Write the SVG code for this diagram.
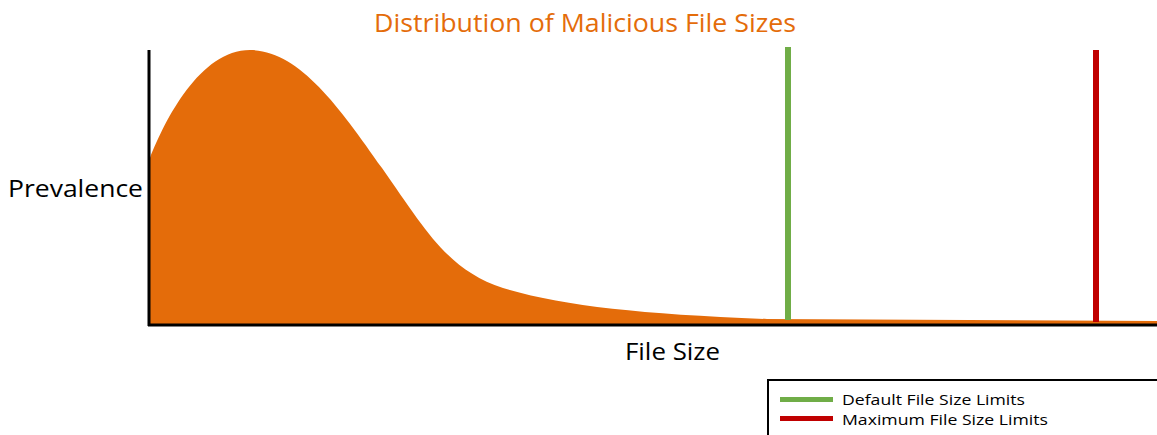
<svg xmlns="http://www.w3.org/2000/svg" width="1157" height="435" viewBox="0 0 1157 435">
<style>
text { font-family: "Open Sans", "Noto Sans", "Liberation Sans", sans-serif; }
.lbl { fill: #000; font-size: 24px; }
.leg { fill: #000; font-size: 15px; }
.axis { stroke: #000; stroke-width: 3; fill: none; }
</style>
<rect width="1157" height="435" fill="#fff"/>
<text id="title" x="374" y="32" textLength="422" lengthAdjust="spacingAndGlyphs" style="fill:#E46C0A;font-size:25px">Distribution of Malicious File Sizes</text>
<g id="curve">
<path d="M150,324 L150,158 C165,120 200,50 250,50 C298,50 338,105 382,168 S448,270 503,288 C563,306 640,314 767,319 L1157,321 L1157,325 L150,325 Z" fill="#E46C0A"/>
</g>
<g id="axes">
<line class="axis" x1="149" y1="50" x2="149" y2="326"/>
<line class="axis" x1="148" y1="325" x2="1157" y2="325"/>
</g>
<g id="default-limit"><rect x="785" y="47" width="6" height="273" fill="#70AD47"/></g>
<g id="max-limit"><rect x="1093" y="50" width="6" height="272" fill="#C00000"/></g>
<text id="ylabel" class="lbl" x="8" y="197" textLength="135" lengthAdjust="spacingAndGlyphs">Prevalence</text>
<text id="xlabel" class="lbl" x="625" y="360" textLength="95" lengthAdjust="spacingAndGlyphs">File Size</text>
<g id="legend">
<rect x="768" y="380" width="400" height="70" fill="#fff" stroke="#000" stroke-width="2"/>
<rect x="780" y="397" width="53" height="5" fill="#70AD47"/>
<rect x="780" y="416" width="53" height="5" fill="#C00000"/>
<text class="leg" x="842" y="405" textLength="183" lengthAdjust="spacingAndGlyphs">Default File Size Limits</text>
<text class="leg" x="842" y="425" textLength="206" lengthAdjust="spacingAndGlyphs">Maximum File Size Limits</text>
</g>
</svg>
